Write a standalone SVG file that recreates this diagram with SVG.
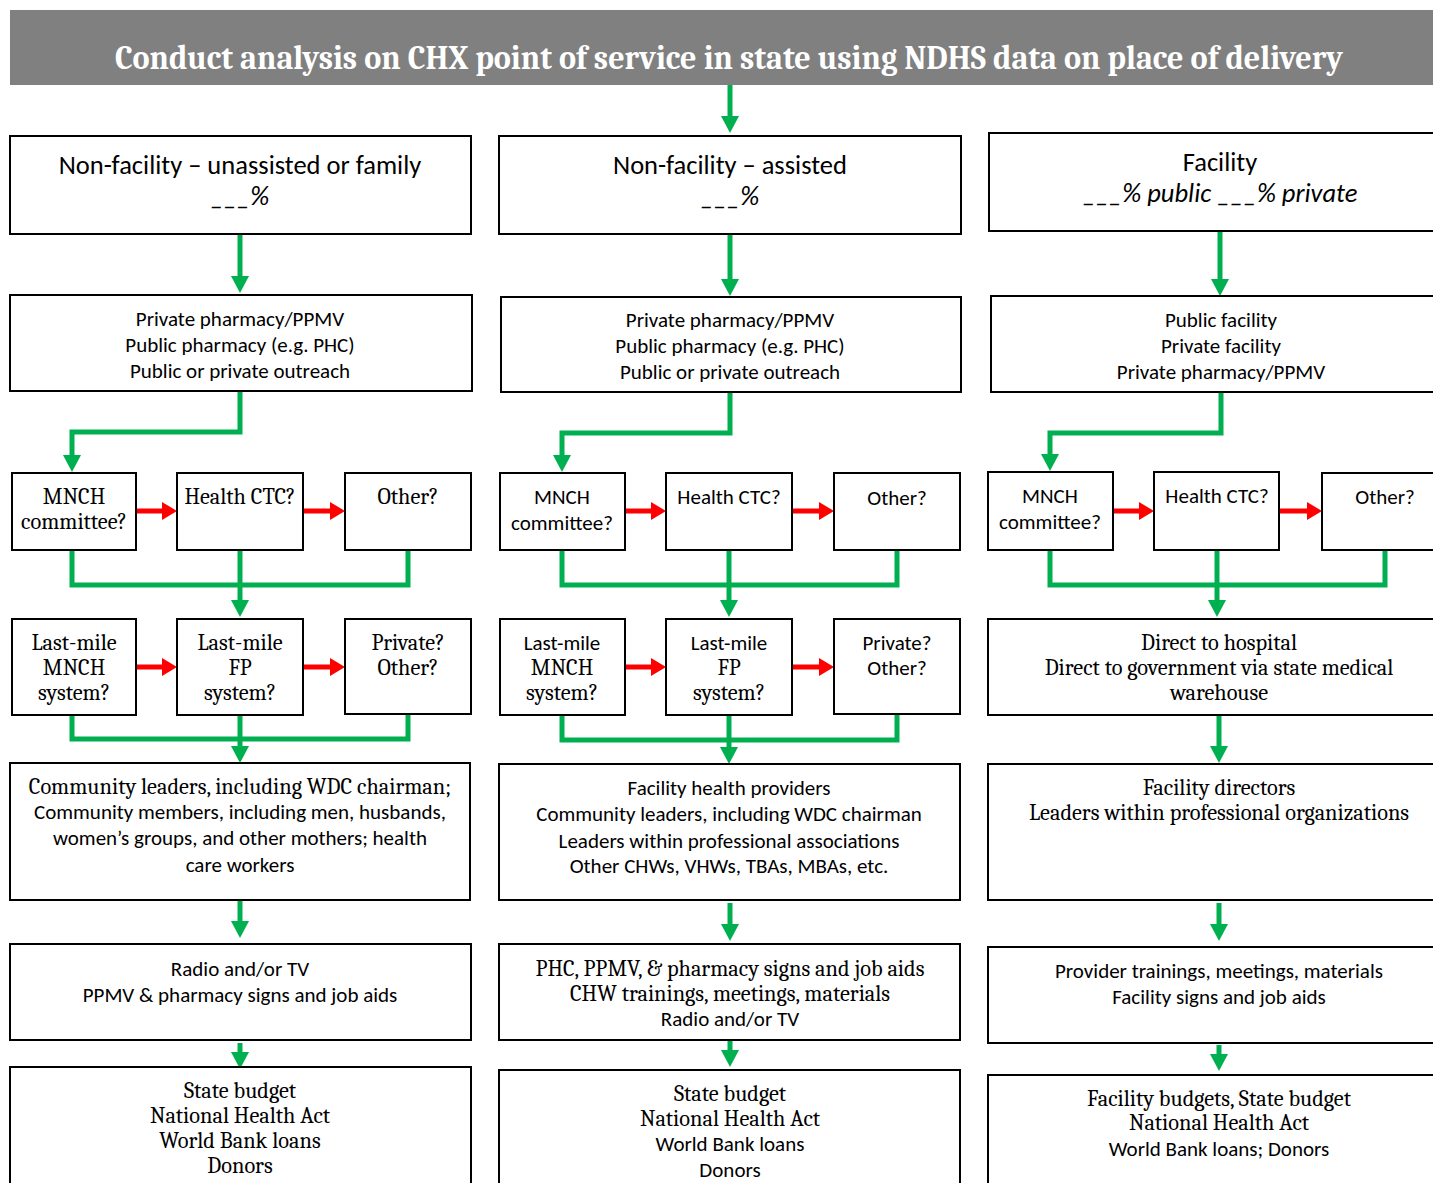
<svg xmlns="http://www.w3.org/2000/svg" width="1433" height="1183" viewBox="0 0 1433 1183">
<style>
.box{fill:#fff;stroke:#000;stroke-width:2}
.s{font-family:Carlito,Lato,"Open Sans",sans-serif;font-size:21px;fill:#000;text-anchor:middle}
.r{font-family:Caladea,"Liberation Serif",serif;font-size:22.3px;fill:#000;text-anchor:middle}
.big{font-size:26.5px}
.it{font-style:italic}
.g{fill:none;stroke:#00B050;stroke-width:5;stroke-linejoin:miter}
.rd{fill:none;stroke:#FF0000;stroke-width:5}
</style>
<defs>
<marker id="ga" markerUnits="userSpaceOnUse" markerWidth="18" markerHeight="18" refX="0" refY="9" orient="auto"><path d="M0,0 L17,9 L0,18 z" fill="#00B050"/></marker>
<marker id="ra" markerUnits="userSpaceOnUse" markerWidth="16" markerHeight="18" refX="0" refY="9" orient="auto"><path d="M0,0 L15,9 L0,18 z" fill="#FF0000"/></marker>
</defs>
<rect width="1433" height="1183" fill="#fff"/>

<g id="header">
<rect x="10" y="10" width="1423" height="75" fill="#808080"/>
<text x="729" y="69" font-family="Caladea,'Liberation Serif',serif" font-weight="bold" font-size="34" fill="#fff" text-anchor="middle" textLength="1228" lengthAdjust="spacingAndGlyphs">Conduct analysis on CHX point of service in state using NDHS data on place of delivery</text>
</g>

<g id="connectors">
<path class="g" d="M730,85 V116" marker-end="url(#ga)"/>
<path class="g" d="M240,234 V276" marker-end="url(#ga)"/>
<path class="g" d="M730,234 V279" marker-end="url(#ga)"/>
<path class="g" d="M1220,231 V279" marker-end="url(#ga)"/>
<path class="g" d="M240,391 V432 H72 V455" marker-end="url(#ga)"/>
<path class="g" d="M730,392 V433 H562 V455" marker-end="url(#ga)"/>
<path class="g" d="M1221,392 V433 H1050 V454" marker-end="url(#ga)"/>
<path class="rd" d="M136,511 H162" marker-end="url(#ra)"/>
<path class="rd" d="M303,511 H330" marker-end="url(#ra)"/>
<path class="rd" d="M625,511 H651" marker-end="url(#ra)"/>
<path class="rd" d="M792,511 H819" marker-end="url(#ra)"/>
<path class="rd" d="M1113,511 H1139" marker-end="url(#ra)"/>
<path class="rd" d="M1279,511 H1307" marker-end="url(#ra)"/>
<path class="g" d="M72,550 V585 H408 V550"/>
<path class="g" d="M240,550 V600" marker-end="url(#ga)"/>
<path class="g" d="M562,550 V585 H897 V550"/>
<path class="g" d="M729,550 V600" marker-end="url(#ga)"/>
<path class="g" d="M1050,550 V585 H1385 V550"/>
<path class="g" d="M1217,550 V600" marker-end="url(#ga)"/>
<path class="rd" d="M136,667 H162" marker-end="url(#ra)"/>
<path class="rd" d="M303,667 H330" marker-end="url(#ra)"/>
<path class="rd" d="M625,667 H651" marker-end="url(#ra)"/>
<path class="rd" d="M792,667 H819" marker-end="url(#ra)"/>
<path class="g" d="M72,715 V739 H408 V715"/>
<path class="g" d="M240,715 V746" marker-end="url(#ga)"/>
<path class="g" d="M562,715 V740 H897 V715"/>
<path class="g" d="M729,715 V747" marker-end="url(#ga)"/>
<path class="g" d="M1219,715 V746" marker-end="url(#ga)"/>
<path class="g" d="M240,900 V921" marker-end="url(#ga)"/>
<path class="g" d="M730,903 V924" marker-end="url(#ga)"/>
<path class="g" d="M1219,903 V924" marker-end="url(#ga)"/>
<path class="g" d="M240,1043 V1052" marker-end="url(#ga)"/>
<path class="g" d="M730,1041 V1050" marker-end="url(#ga)"/>
<path class="g" d="M1219,1045 V1054" marker-end="url(#ga)"/>
</g>

<g id="a1"><rect class="box" x="10" y="136" width="461" height="98"/>
<text class="s big" x="240" y="174">Non-facility – unassisted or family</text>
<text class="s big it" x="240" y="205">___%</text></g>
<g id="b1"><rect class="box" x="499" y="136" width="462" height="98"/>
<text class="s big" x="730" y="174">Non-facility – assisted</text>
<text class="s big it" x="730" y="205">___%</text></g>
<g id="c1"><rect class="box" x="989" y="133" width="450" height="98"/>
<text class="s big" x="1220" y="171">Facility</text>
<text class="s big it" x="1220" y="202">___% public ___% private</text></g>

<g id="a2"><rect class="box" x="10" y="295" width="462" height="96"/>
<text class="s" x="240" y="326">Private pharmacy/PPMV</text>
<text class="s" x="240" y="352">Public pharmacy (e.g. PHC)</text>
<text class="s" x="240" y="378">Public or private outreach</text></g>
<g id="b2"><rect class="box" x="501" y="297" width="460" height="95"/>
<text class="s" x="730" y="327">Private pharmacy/PPMV</text>
<text class="s" x="730" y="353">Public pharmacy (e.g. PHC)</text>
<text class="s" x="730" y="379">Public or private outreach</text></g>
<g id="c2"><rect class="box" x="991" y="296" width="448" height="96"/>
<text class="s" x="1221" y="327">Public facility</text>
<text class="s" x="1221" y="353">Private facility</text>
<text class="s" x="1221" y="379">Private pharmacy/PPMV</text></g>

<g id="a3a"><rect class="box" x="12" y="473" width="124" height="77"/>
<text class="r" x="74" y="504">MNCH</text><text class="r" x="74" y="529">committee?</text></g>
<g id="a3b"><rect class="box" x="177" y="473" width="126" height="77"/>
<text class="r" x="240" y="504">Health CTC?</text></g>
<g id="a3c"><rect class="box" x="345" y="473" width="126" height="77"/>
<text class="r" x="408" y="504">Other?</text></g>
<g id="b3a"><rect class="box" x="500" y="473" width="125" height="77"/>
<text class="s" x="562" y="504">MNCH</text><text class="s" x="562" y="530">committee?</text></g>
<g id="b3b"><rect class="box" x="666" y="473" width="126" height="77"/>
<text class="s" x="729" y="504">Health CTC?</text></g>
<g id="b3c"><rect class="box" x="834" y="473" width="126" height="77"/>
<text class="s" x="897" y="505">Other?</text></g>
<g id="c3a"><rect class="box" x="988" y="472" width="125" height="78"/>
<text class="s" x="1050" y="503">MNCH</text><text class="s" x="1050" y="529">committee?</text></g>
<g id="c3b"><rect class="box" x="1154" y="472" width="125" height="78"/>
<text class="s" x="1217" y="503">Health CTC?</text></g>
<g id="c3c"><rect class="box" x="1322" y="473" width="120" height="77"/>
<text class="s" x="1385" y="504">Other?</text></g>

<g id="a4a"><rect class="box" x="12" y="619" width="124" height="96"/>
<text class="r" x="74" y="650">Last-mile</text><text class="r" x="74" y="675">MNCH</text><text class="r" x="74" y="700">system?</text></g>
<g id="a4b"><rect class="box" x="177" y="619" width="126" height="96"/>
<text class="r" x="240" y="650">Last-mile</text><text class="r" x="240" y="675">FP</text><text class="r" x="240" y="700">system?</text></g>
<g id="a4c"><rect class="box" x="345" y="619" width="126" height="95"/>
<text class="r" x="408" y="650">Private?</text><text class="r" x="408" y="675">Other?</text></g>
<g id="b4a"><rect class="box" x="500" y="619" width="125" height="96"/>
<text class="s" x="562" y="650">Last-mile</text><text class="r" x="562" y="675">MNCH</text><text class="r" x="562" y="700">system?</text></g>
<g id="b4b"><rect class="box" x="666" y="619" width="126" height="96"/>
<text class="s" x="729" y="650">Last-mile</text><text class="r" x="729" y="675">FP</text><text class="r" x="729" y="700">system?</text></g>
<g id="b4c"><rect class="box" x="834" y="619" width="126" height="95"/>
<text class="s" x="897" y="650">Private?</text><text class="s" x="897" y="675">Other?</text></g>
<g id="c4"><rect class="box" x="988" y="619" width="451" height="96"/>
<text class="r" x="1219" y="650">Direct to hospital</text>
<text class="r" x="1219" y="675">Direct to government via state medical</text>
<text class="r" x="1219" y="700">warehouse</text></g>

<g id="a5"><rect class="box" x="10" y="763" width="460" height="137"/>
<text class="r" x="240" y="794">Community leaders, including WDC chairman;</text>
<text class="s" x="240" y="819">Community members, including men, husbands,</text>
<text class="s" x="240" y="845">women’s groups, and other mothers; health</text>
<text class="s" x="240" y="872">care workers</text></g>
<g id="b5"><rect class="box" x="499" y="764" width="461" height="136"/>
<text class="s" x="729" y="795">Facility health providers</text>
<text class="s" x="729" y="821">Community leaders, including WDC chairman</text>
<text class="s" x="729" y="848">Leaders within professional associations</text>
<text class="s" x="729" y="873">Other CHWs, VHWs, TBAs, MBAs, etc.</text></g>
<g id="c5"><rect class="box" x="988" y="764" width="451" height="136"/>
<text class="r" x="1219" y="795">Facility directors</text>
<text class="r" x="1219" y="820">Leaders within professional organizations</text></g>

<g id="a6"><rect class="box" x="10" y="944" width="461" height="96"/>
<text class="s" x="240" y="976">Radio and/or TV</text>
<text class="s" x="240" y="1002">PPMV &amp; pharmacy signs and job aids</text></g>
<g id="b6"><rect class="box" x="499" y="944" width="461" height="96"/>
<text class="r" x="730" y="976">PHC, PPMV, &amp; pharmacy signs and job aids</text>
<text class="r" x="730" y="1001">CHW trainings, meetings, materials</text>
<text class="s" x="730" y="1026">Radio and/or TV</text></g>
<g id="c6"><rect class="box" x="988" y="947" width="451" height="96"/>
<text class="s" x="1219" y="978">Provider trainings, meetings, materials</text>
<text class="s" x="1219" y="1004">Facility signs and job aids</text></g>

<g id="a7"><rect class="box" x="10" y="1067" width="461" height="130"/>
<text class="r" x="240" y="1098">State budget</text>
<text class="r" x="240" y="1123">National Health Act</text>
<text class="r" x="240" y="1148">World Bank loans</text>
<text class="r" x="240" y="1173">Donors</text></g>
<g id="b7"><rect class="box" x="499" y="1070" width="461" height="130"/>
<text class="r" x="730" y="1101">State budget</text>
<text class="r" x="730" y="1126">National Health Act</text>
<text class="s" x="730" y="1151">World Bank loans</text>
<text class="s" x="730" y="1177">Donors</text></g>
<g id="c7"><rect class="box" x="988" y="1075" width="451" height="130"/>
<text class="r" x="1219" y="1106">Facility budgets, State budget</text>
<text class="r" x="1219" y="1130">National Health Act</text>
<text class="s" x="1219" y="1156">World Bank loans; Donors</text></g>
</svg>
